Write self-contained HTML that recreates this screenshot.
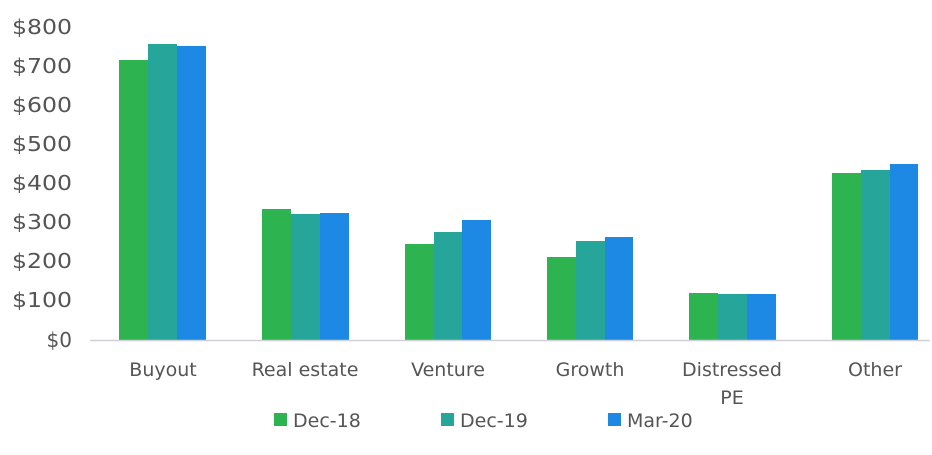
<!DOCTYPE html>
<html><head><meta charset="utf-8"><style>
html,body{margin:0;padding:0;background:#fff;}
svg text{font-family:"DejaVu Sans","Liberation Sans",sans-serif;fill:#555;}
</style></head><body>
<svg width="932" height="450" viewBox="0 0 932 450" xmlns="http://www.w3.org/2000/svg">
<g font-size="20" text-anchor="end">
<text x="72" y="34" textLength="60" lengthAdjust="spacingAndGlyphs">$800</text>
<text x="72" y="73" textLength="60" lengthAdjust="spacingAndGlyphs">$700</text>
<text x="72" y="112" textLength="60" lengthAdjust="spacingAndGlyphs">$600</text>
<text x="72" y="151" textLength="60" lengthAdjust="spacingAndGlyphs">$500</text>
<text x="72" y="190" textLength="60" lengthAdjust="spacingAndGlyphs">$400</text>
<text x="72" y="229" textLength="60" lengthAdjust="spacingAndGlyphs">$300</text>
<text x="72" y="268" textLength="60" lengthAdjust="spacingAndGlyphs">$200</text>
<text x="72" y="307" textLength="60" lengthAdjust="spacingAndGlyphs">$100</text>
<text x="72" y="347">$0</text>
</g>
<g>
<rect x="119" y="60" width="29" height="280" fill="#2db34f"/>
<rect x="148" y="44" width="29" height="296" fill="#26a69a"/>
<rect x="177" y="46" width="29" height="294" fill="#1e88e5"/>
<rect x="262" y="209" width="29" height="131" fill="#2db34f"/>
<rect x="291" y="214" width="29" height="126" fill="#26a69a"/>
<rect x="320" y="213" width="29" height="127" fill="#1e88e5"/>
<rect x="405" y="244" width="29" height="96" fill="#2db34f"/>
<rect x="434" y="232" width="28" height="108" fill="#26a69a"/>
<rect x="462" y="220" width="29" height="120" fill="#1e88e5"/>
<rect x="547" y="257" width="29" height="83" fill="#2db34f"/>
<rect x="576" y="241" width="29" height="99" fill="#26a69a"/>
<rect x="605" y="237" width="28" height="103" fill="#1e88e5"/>
<rect x="689" y="293" width="29" height="47" fill="#2db34f"/>
<rect x="718" y="294" width="29" height="46" fill="#26a69a"/>
<rect x="747" y="294" width="29" height="46" fill="#1e88e5"/>
<rect x="832" y="173" width="29" height="167" fill="#2db34f"/>
<rect x="861" y="170" width="29" height="170" fill="#26a69a"/>
<rect x="890" y="164" width="28" height="176" fill="#1e88e5"/>
</g>
<line x1="90" y1="340.5" x2="930" y2="340.5" stroke="#d0d0d8" stroke-width="1.5"/>
<g font-size="19" text-anchor="middle">
<text x="163" y="376">Buyout</text>
<text x="305" y="376">Real estate</text>
<text x="448" y="376">Venture</text>
<text x="590" y="376">Growth</text>
<text x="732" y="376">Distressed</text>
<text x="732" y="404">PE</text>
<text x="875" y="376">Other</text>
</g>
<g font-size="19">
<rect x="274" y="413" width="13" height="13" fill="#2db34f"/>
<text x="293" y="427">Dec-18</text>
<rect x="441" y="413" width="13" height="13" fill="#26a69a"/>
<text x="460" y="427">Dec-19</text>
<rect x="608" y="413" width="13" height="13" fill="#1e88e5"/>
<text x="627" y="427">Mar-20</text>
</g>
</svg>
</body></html>
